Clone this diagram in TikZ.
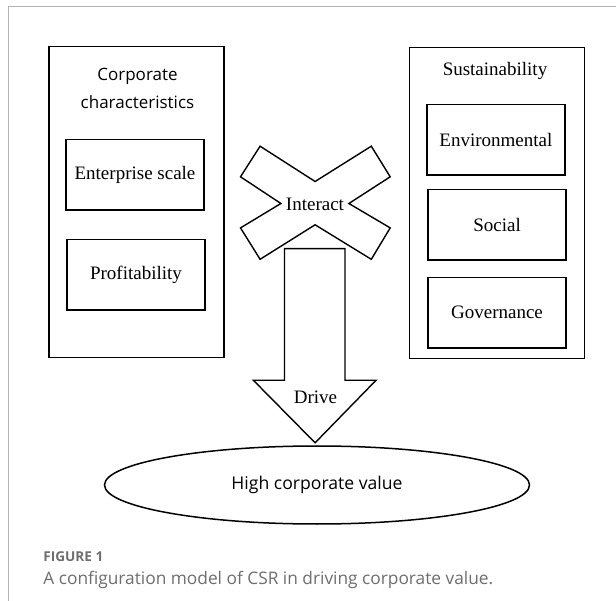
\documentclass[tikz,border=0pt]{standalone}
\usepackage{fontspec}
\setmainfont{Liberation Serif}
\newfontfamily\dsans{Open Sans}
\usetikzlibrary{shapes.geometric}
\definecolor{framegray}{HTML}{B4B4B4}
\definecolor{capgray}{HTML}{6E6E6E}
\tikzset{
  outerbox/.style={draw, line width=1.5pt, rectangle, minimum width=175pt, minimum height=311pt, inner sep=0pt},
  innerbox/.style={draw, line width=1.5pt, rectangle, minimum width=138pt, minimum height=70.5pt, inner sep=0pt, font=\fontsize{19}{22}\selectfont},
  sertext/.style={inner sep=0pt, font=\fontsize{19}{22}\selectfont},
  sanstext/.style={inner sep=0pt, font=\dsans\fontsize{17}{24}\selectfont, align=center},
  shapeline/.style={line width=1.4pt, line join=miter}
}
\begin{document}
\begin{tikzpicture}[x=1pt,y=-1pt]
\useasboundingbox (0,0) rectangle (616,601);
\fill[white] (0,0) rectangle (616,601);
% card frame
\draw[framegray, line width=1pt] (8.7,601) -- (8.7,7) -- (616,7);

% left group
\node[outerbox] (left) at (136.4,202) {};
\node[sanstext] (ltitle) at (137.5,88.5) {Corporate\\[4pt]characteristics};
\node[innerbox] (scale) at (135,174.9) {Enterprise scale};
\node[innerbox] (profit) at (136,275) {Profitability};

% right group
\node[outerbox] (right) at (496.9,202.8) {};
\node[sertext] (rtitle) at (495,71) {Sustainability};
\node[innerbox] (env) at (495.9,139.7) {Environmental};
\node[innerbox] (soc) at (497.1,225) {Social};
\node[innerbox] (gov) at (497,312.8) {Governance};

% interact cross
\draw[shapeline] (315.1,181.5) -- (371.3,146.2) -- (390.2,176.8) -- (348.9,203.5)
  -- (390.2,227.9) -- (371.3,259.3) -- (315.1,224.8) -- (260.1,259.3)
  -- (240.5,227.9) -- (280.9,203.5) -- (240.5,176.8) -- (260.1,146.2) -- cycle;
\node[sertext] (interact) at (315,204) {Interact};

% drive arrow
\draw[shapeline] (284.5,248.7) -- (345,248.7) -- (345,380.3) -- (376,380.3)
  -- (315.1,442.8) -- (253.4,380.3) -- (284.5,380.3) -- cycle;
\node[sertext] (drive) at (315.5,397) {Drive};

% outcome ellipse
\node[draw, ellipse, line width=1.5pt, minimum width=425pt, minimum height=78pt, inner sep=0pt,
      font=\dsans\fontsize{17.6}{20}\selectfont] (value) at (317,485) {High corporate value};

% caption
\node[anchor=west, inner sep=0pt, text=capgray, font=\dsans\bfseries\fontsize{13.6}{15}\selectfont] (fig) at (43.2,557) {FIGURE 1};
\node[anchor=west, inner sep=0pt, text=capgray, font=\dsans\fontsize{17.3}{20}\selectfont] (cap) at (43.2,580) {A configuration model of CSR in driving corporate value.};
\end{tikzpicture}
\end{document}
